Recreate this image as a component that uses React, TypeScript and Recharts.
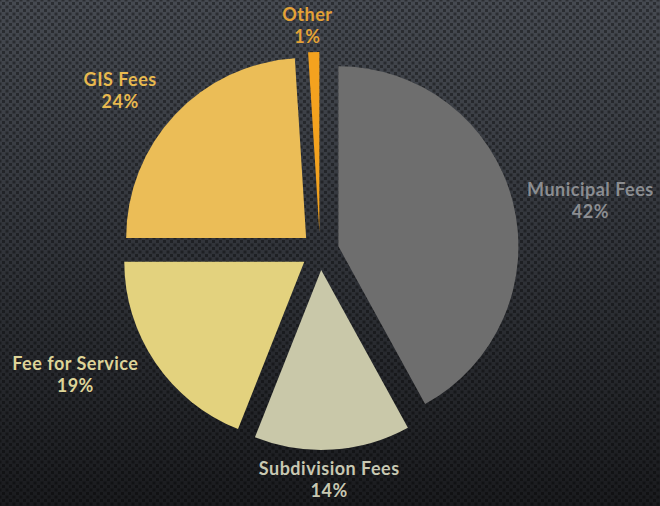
import { PieChart, Pie, Cell } from "recharts";

const CATEGORIES = ["Municipal Fees", "Subdivision Fees", "Fee for Service", "GIS Fees", "Other"];
const SHARES = [42, 14, 19, 24, 1];

const SLICE_COLORS = ["#6e6e6e", "#c9c8a9", "#e3d27e", "#ebbd57", "#f3a21f"];
const LABEL_COLORS = ["#8b8d91", "#c8c8b2", "#ded498", "#e8b94f", "#e4a236"];
// where each label sits, measured from the centre of its own (pulled out) slice
const LABEL_OFFSETS: [number, number][] = [
  [252, -45],
  [8, 210],
  [-229, 113],
  [-186, -147],
  [-12, -206],
];

const W = 660;
const H = 506;
const CX = 320;
const CY = 251;
const RADIUS = 180;
const EXPLODE = 19;

const rows = CATEGORIES.map((name, i) => ({ name, value: SHARES[i] }));
const total = SHARES.reduce((a, b) => a + b, 0);

// direction of each slice's middle, used to pull the slice away from the centre
const pulls = SHARES.map((v, i) => {
  const before = SHARES.slice(0, i).reduce((a, b) => a + b, 0);
  const mid = ((90 - (360 * (before + v / 2)) / total) * Math.PI) / 180;
  return [Math.cos(mid) * EXPLODE, -Math.sin(mid) * EXPLODE];
});

const bg = {
  position: "absolute" as const,
  left: 0,
  top: 0,
  width: W,
  height: H,
  backgroundColor: "#2c2f34",
  backgroundImage:
    "radial-gradient(circle, rgba(0,0,0,0.38) 1.4px, transparent 2px)," +
    "radial-gradient(circle, rgba(0,0,0,0.38) 1.4px, transparent 2px)," +
    "linear-gradient(180deg, #464a51 0%, #33363c 45%, #1a1b1e 100%)",
  backgroundSize: "7px 7px, 7px 7px, 100% 100%",
  backgroundPosition: "0 0, 3.5px 3.5px, 0 0",
};

function makeLabel(slice: number) {
  return (p: any) => {
    if (p.index !== slice) return null;
    const [dx, dy] = LABEL_OFFSETS[slice];
    const x = p.cx + dx;
    const y = p.cy + dy;
    return (
      <text
        x={x}
        y={y - 5}
        textAnchor="middle"
        fill={LABEL_COLORS[slice]}
        fontFamily="Lato, 'Open Sans', sans-serif"
        fontWeight={700}
        fontSize={18}
        letterSpacing={0.5}
      >
        <tspan x={x}>{p.name}</tspan>
        <tspan x={x} dy={22}>
          {p.value}%
        </tspan>
      </text>
    );
  };
}

export default function App() {
  return (
    <div style={bg}>
      <PieChart width={W} height={H} margin={{ top: 0, right: 0, bottom: 0, left: 0 }}>
        {rows.map((row, i) => (
          <Pie
            key={row.name}
            data={rows}
            dataKey="value"
            nameKey="name"
            cx={CX + pulls[i][0]}
            cy={CY + pulls[i][1]}
            outerRadius={RADIUS}
            startAngle={90}
            endAngle={-270}
            stroke="none"
            labelLine={false}
            label={makeLabel(i)}
            isAnimationActive={false}
          >
            {rows.map((r, j) => (
              <Cell key={r.name} fill={j === i ? SLICE_COLORS[i] : "transparent"} />
            ))}
          </Pie>
        ))}
      </PieChart>
    </div>
  );
}
